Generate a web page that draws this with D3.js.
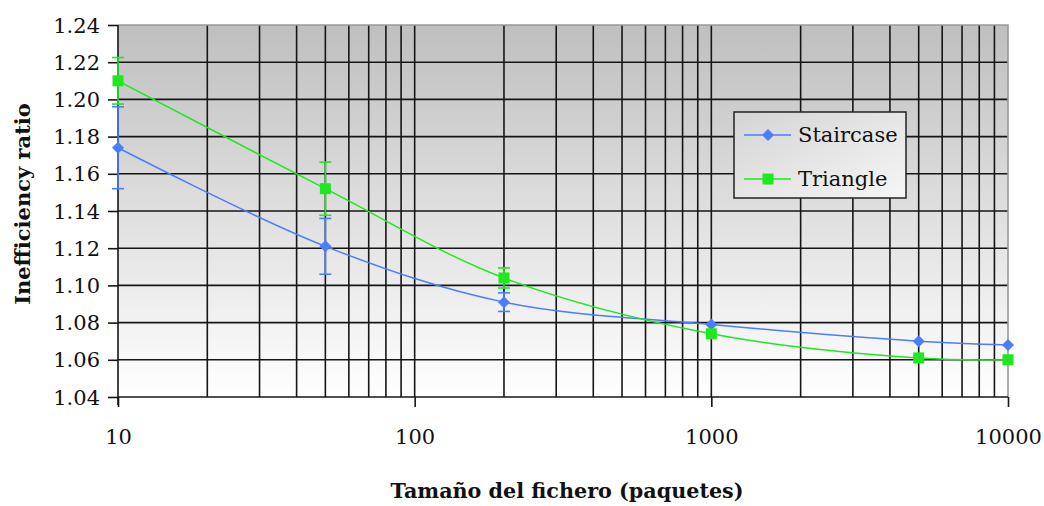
<!DOCTYPE html>
<html>
<head>
<meta charset="utf-8">
<script src="https://cdn.jsdelivr.net/npm/d3@7/dist/d3.min.js"></script>
<style>
  html, body { margin: 0; padding: 0; background: #fff; }
  svg { display: block; }
  text { font-family: "DejaVu Serif", "Liberation Serif", serif; fill: #111; }
</style>
</head>
<body>
<svg id="chart" width="1044" height="506"></svg>
<script>
// File sizes (packets)
const sizes = [10, 50, 200, 1000, 5000, 10000];

// Mean inefficiency ratio per protocol
const staircase = [1.174, 1.121, 1.091, 1.079, 1.070, 1.068];
const triangle  = [1.210, 1.152, 1.104, 1.074, 1.061, 1.060];

// Error bar half-widths
const staircaseErr = [0.022, 0.015, 0.005, 0, 0, 0];
const triangleErr  = [0.0125, 0.0143, 0.0054, 0, 0, 0];

const seriesNames = ["Staircase", "Triangle"];
const xTicks = [10, 100, 1000, 10000];
const yTicks = [1.04, 1.06, 1.08, 1.10, 1.12, 1.14, 1.16, 1.18, 1.20, 1.22, 1.24];

const svg = d3.select("#chart");
const plotLeft = 118, plotRight = 1008, plotTop = 25, plotBottom = 397;

const x = d3.scaleLog().domain([10, 10000]).range([plotLeft, plotRight]);
const y = d3.scaleLinear().domain([1.04, 1.24]).range([plotBottom, plotTop]);

// Background gradient of the plot area
const defs = svg.append("defs");
const g1 = defs.append("linearGradient").attr("id", "plotBg")
  .attr("x1", 0).attr("y1", 0).attr("x2", 0).attr("y2", 1);
g1.append("stop").attr("offset", "0%").attr("stop-color", "#bfbfbf");
g1.append("stop").attr("offset", "100%").attr("stop-color", "#ffffff");

const g2 = defs.append("linearGradient").attr("id", "legendBg")
  .attr("x1", 0).attr("y1", 0).attr("x2", 1).attr("y2", 1);
g2.append("stop").attr("offset", "0%").attr("stop-color", "#d4d4d4");
g2.append("stop").attr("offset", "100%").attr("stop-color", "#f6f6f6");

svg.append("rect")
  .attr("x", plotLeft).attr("y", plotTop)
  .attr("width", plotRight - plotLeft).attr("height", plotBottom - plotTop)
  .attr("fill", "url(#plotBg)");

// Grid: horizontal at each y tick, vertical at each log minor value
const grid = svg.append("g").attr("stroke", "#161616").attr("stroke-width", 1.6);
yTicks.filter(v => v > 1.04 && v < 1.24).forEach(v => {
  grid.append("line").attr("x1", plotLeft).attr("x2", plotRight)
    .attr("y1", y(v)).attr("y2", y(v));
});
const minor = [];
for (let d = 10; d < 10000; d *= 10) {
  for (let k = 1; k <= 9; k++) {
    const v = d * k;
    if (v > 10 && v < 10000) minor.push(v);
  }
}
minor.forEach(v => {
  grid.append("line").attr("y1", plotTop).attr("y2", plotBottom)
    .attr("x1", x(v)).attr("x2", x(v));
});

// Plot border (top and right)
svg.append("path")
  .attr("d", `M${plotLeft},${plotTop}H${plotRight}V${plotBottom}`)
  .attr("fill", "none").attr("stroke", "#9a9a9a").attr("stroke-width", 1.6);

// Axes
const yAxis = d3.axisLeft(y).tickValues(yTicks).tickFormat(d3.format(".2f"))
  .tickSize(10).tickPadding(8);
const yg = svg.append("g").attr("transform", `translate(${plotLeft},0)`).call(yAxis);
yg.select(".domain").attr("stroke", "#161616").attr("stroke-width", 1.6)
  .attr("d", `M0,${plotTop}V${plotBottom + 8}`);
yg.selectAll(".tick line").attr("stroke", "#161616").attr("stroke-width", 1.6);
yg.selectAll(".tick text").style("font-size", "21px").attr("fill", "#111")
  .attr("dy", "0.34em");

const xAxis = d3.axisBottom(x).tickValues(xTicks).tickFormat(d3.format("d"))
  .tickSize(10).tickPadding(22);
const xg = svg.append("g").attr("transform", `translate(0,${plotBottom})`).call(xAxis);
xg.select(".domain").attr("stroke", "#161616").attr("stroke-width", 1.6)
  .attr("d", `M${plotLeft},0H${plotRight}`);
xg.selectAll(".tick line").attr("stroke", "#161616").attr("stroke-width", 1.6);
xg.selectAll(".tick text").style("font-size", "21px").attr("fill", "#111");

// Axis titles
svg.append("text")
  .attr("x", 567).attr("y", 498)
  .attr("text-anchor", "middle")
  .style("font-size", "20.7px").style("font-weight", "bold")
  .text("Tamaño del fichero (paquetes)");

svg.append("text")
  .attr("transform", "translate(30,204) rotate(-90)")
  .attr("text-anchor", "middle")
  .style("font-size", "21px").style("font-weight", "bold")
  .text("Inefficiency ratio");

// Series
const series = [
  { name: seriesNames[0], values: staircase, err: staircaseErr, color: "#4a7dff", marker: "diamond" },
  { name: seriesNames[1], values: triangle, err: triangleErr, color: "#1ee81e", marker: "square" }
];

const line = d3.line()
  .x(d => x(d[0])).y(d => y(d[1]))
  .curve(d3.curveCatmullRom.alpha(0.5));

function drawMarker(g, type, cx, cy, color) {
  if (type === "diamond") {
    g.append("path")
      .attr("d", `M${cx},${cy - 6}L${cx + 6},${cy}L${cx},${cy + 6}L${cx - 6},${cy}Z`)
      .attr("fill", color);
  } else {
    g.append("rect")
      .attr("x", cx - 5.5).attr("y", cy - 5.5)
      .attr("width", 11).attr("height", 11)
      .attr("fill", color);
  }
}

series.forEach(s => {
  const g = svg.append("g");
  const pts = sizes.map((v, i) => [v, s.values[i]]);
  // error bars
  sizes.forEach((v, i) => {
    const e = s.err[i];
    if (!e) return;
    const cx = x(v), y0 = y(s.values[i] - e), y1 = y(s.values[i] + e);
    g.append("line").attr("x1", cx).attr("x2", cx).attr("y1", y0).attr("y2", y1)
      .attr("stroke", s.color).attr("stroke-width", 1.6);
    [y0, y1].forEach(yy => g.append("line")
      .attr("x1", cx - 6).attr("x2", cx + 6).attr("y1", yy).attr("y2", yy)
      .attr("stroke", s.color).attr("stroke-width", 1.6));
  });
  g.append("path").datum(pts).attr("d", line)
    .attr("fill", "none").attr("stroke", s.color).attr("stroke-width", 1.5);
  pts.forEach(p => drawMarker(g, s.marker, x(p[0]), y(p[1]), s.color));
});

// Legend
const lg = svg.append("g");
lg.append("rect")
  .attr("x", 734).attr("y", 112).attr("width", 172).attr("height", 86)
  .attr("fill", "url(#legendBg)").attr("stroke", "#222").attr("stroke-width", 1.5);
series.forEach((s, i) => {
  const cy = 135 + i * 44;
  lg.append("line").attr("x1", 744).attr("x2", 791).attr("y1", cy).attr("y2", cy)
    .attr("stroke", s.color).attr("stroke-width", 1.5);
  drawMarker(lg, s.marker, 768, cy, s.color);
  lg.append("text").attr("x", 798).attr("y", cy).attr("dy", "0.35em")
    .style("font-size", "21px").text(s.name);
});
</script>
</body>
</html>
